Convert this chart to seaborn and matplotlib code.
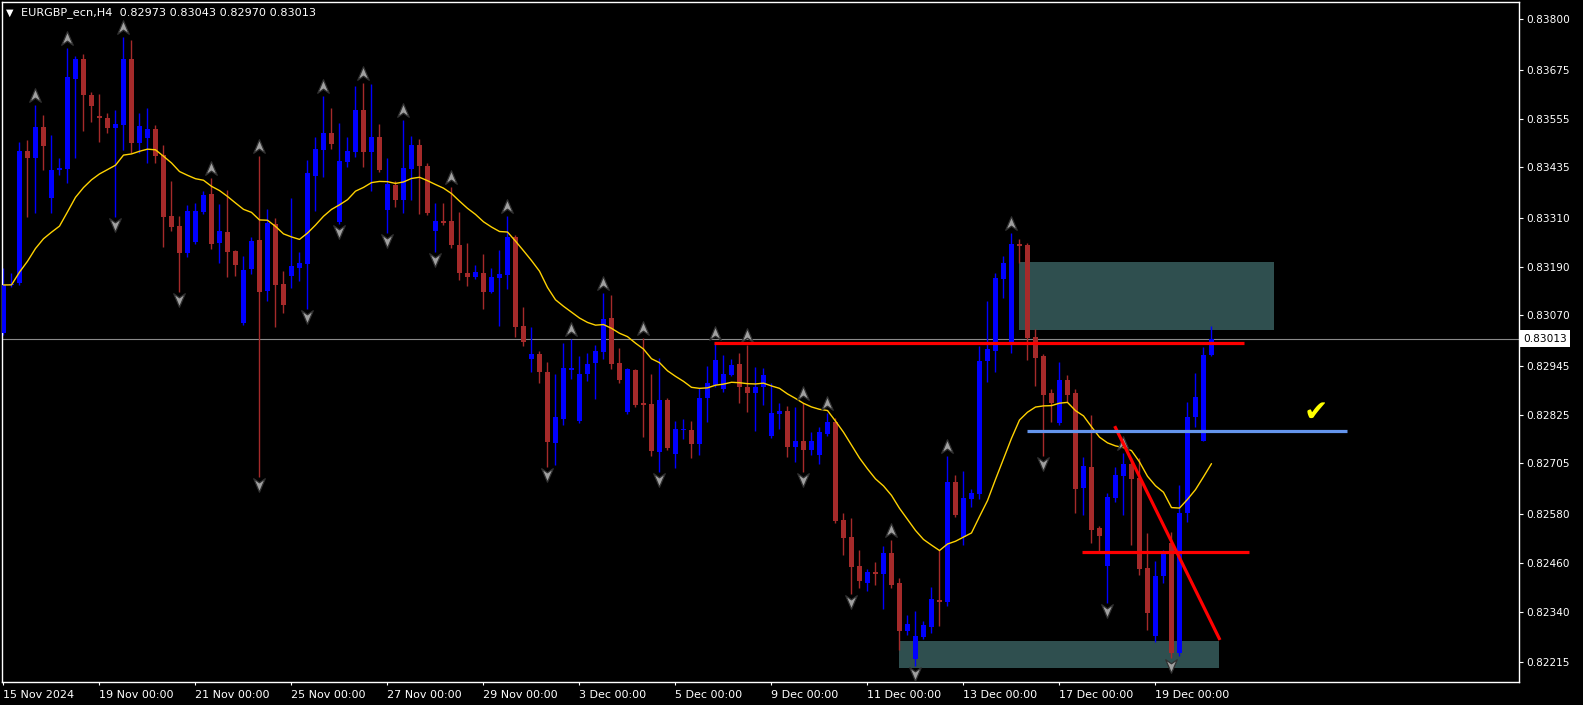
import numpy as np
import pandas as pd
import matplotlib
matplotlib.use("Agg")
import matplotlib.pyplot as plt
from matplotlib.path import Path
from matplotlib.patches import Rectangle
import seaborn as sns

# EURGBP H4 candles from 15 Nov 2024 00:00, one value per bar
opens = [
    0.83027, 0.83145, 0.83150, 0.83475, 0.83458, 0.83534, 0.83359, 0.83428, 0.83431, 0.83653,
    0.83702, 0.83613, 0.83561, 0.83556, 0.83532, 0.83539, 0.83702, 0.83495, 0.83507, 0.83529,
    0.83465, 0.83315, 0.83290, 0.83224, 0.83251, 0.83325, 0.83369, 0.83248, 0.83276, 0.83229,
    0.83051, 0.83184, 0.83256, 0.83130, 0.83295, 0.83147, 0.83167, 0.83187, 0.83197, 0.83414,
    0.83478, 0.83520, 0.83300, 0.83448, 0.83473, 0.83576, 0.83473, 0.83510, 0.83330, 0.83391,
    0.83354, 0.83431, 0.83490, 0.83438, 0.83278, 0.83303, 0.83303, 0.83244, 0.83174, 0.83165,
    0.83174, 0.83128, 0.83162, 0.83170, 0.83263, 0.83044, 0.82962, 0.82975, 0.82930, 0.82756,
    0.82815, 0.82935, 0.82810, 0.82926, 0.82953, 0.82980, 0.83064, 0.82953, 0.82832, 0.82935,
    0.82854, 0.82852, 0.82733, 0.82862, 0.82728, 0.82788, 0.82788, 0.82753, 0.82866, 0.82898,
    0.82889, 0.82923, 0.82950, 0.82894, 0.82879, 0.82894, 0.82773, 0.82827, 0.82834, 0.82746,
    0.82760, 0.82738, 0.82726, 0.82778, 0.82807, 0.82566, 0.82524, 0.82452, 0.82410, 0.82437,
    0.82433, 0.82484, 0.82410, 0.82292, 0.82223, 0.82277, 0.82302, 0.82369, 0.82364, 0.82659,
    0.82524, 0.82618, 0.82630, 0.82958, 0.82982, 0.83160, 0.83004, 0.83246, 0.83244, 0.83017,
    0.82970, 0.82879, 0.82805, 0.82911, 0.82879, 0.82645, 0.82696, 0.82546, 0.82452, 0.82620,
    0.82674, 0.82704, 0.82669, 0.82447, 0.82280, 0.82428, 0.82509, 0.82238, 0.82583, 0.82820,
    0.82760, 0.82973,
]
highs = [
    0.83187, 0.83174, 0.83497, 0.83502, 0.83588, 0.83564, 0.83515, 0.83458, 0.83729, 0.83709,
    0.83714, 0.83621, 0.83616, 0.83569, 0.83576, 0.83756, 0.83749, 0.83569, 0.83581, 0.83539,
    0.83490, 0.83400, 0.83315, 0.83342, 0.83347, 0.83377, 0.83409, 0.83345, 0.83379, 0.83231,
    0.83216, 0.83263, 0.83463, 0.83332, 0.83310, 0.83179, 0.83359, 0.83226, 0.83453, 0.83510,
    0.83611, 0.83581, 0.83544, 0.83510, 0.83635, 0.83643, 0.83640, 0.83542, 0.83458, 0.83400,
    0.83552, 0.83512, 0.83505, 0.83446, 0.83347, 0.83347, 0.83386, 0.83325, 0.83248, 0.83194,
    0.83221, 0.83187, 0.83231, 0.83315, 0.83268, 0.83091, 0.83041, 0.82982, 0.82955, 0.82926,
    0.83002, 0.83012, 0.82970, 0.82977, 0.82997, 0.83125, 0.83120, 0.82990, 0.82940, 0.82938,
    0.83014, 0.82926, 0.82965, 0.82866, 0.82810, 0.82815, 0.82810, 0.82891, 0.82945, 0.83002,
    0.82972, 0.82962, 0.82977, 0.82997, 0.82943, 0.82940, 0.82903, 0.82854, 0.82847, 0.82844,
    0.82854, 0.82783, 0.82795, 0.82830, 0.82817, 0.82583, 0.82571, 0.82492, 0.82445, 0.82462,
    0.82502, 0.82516, 0.82423, 0.82331, 0.82341, 0.82317, 0.82401, 0.82492, 0.82724, 0.82677,
    0.82687, 0.82642, 0.82995, 0.83105, 0.83174, 0.83216, 0.83273, 0.83258, 0.83248, 0.83036,
    0.82975, 0.82889, 0.82955, 0.82923, 0.82889, 0.82721, 0.82825, 0.82551, 0.82632, 0.82696,
    0.82731, 0.82719, 0.82719, 0.82534, 0.82465, 0.82492, 0.82536, 0.82652, 0.82857, 0.82928,
    0.82992, 0.83043,
]
lows = [
    0.83022, 0.83140, 0.83145, 0.83312, 0.83322, 0.83428, 0.83322, 0.83416, 0.83396, 0.83458,
    0.83524, 0.83547, 0.83497, 0.83520, 0.83312, 0.83478, 0.83470, 0.83470, 0.83446, 0.83446,
    0.83239, 0.83278, 0.83128, 0.83214, 0.83246, 0.83320, 0.83234, 0.83199, 0.83165, 0.83167,
    0.83046, 0.83172, 0.82672, 0.83105, 0.83041, 0.83076, 0.83138, 0.83155, 0.83086, 0.83327,
    0.83411, 0.83480, 0.83295, 0.83436, 0.83460, 0.83436, 0.83377, 0.83423, 0.83273, 0.83337,
    0.83322, 0.83354, 0.83320, 0.83317, 0.83226, 0.83293, 0.83236, 0.83157, 0.83142, 0.83160,
    0.83086, 0.83125, 0.83044, 0.83135, 0.83017, 0.82995, 0.82930, 0.82903, 0.82696, 0.82701,
    0.82800, 0.82913, 0.82805, 0.82908, 0.82864, 0.82962, 0.82938, 0.82903, 0.82827, 0.82844,
    0.82770, 0.82724, 0.82684, 0.82738, 0.82694, 0.82765, 0.82719, 0.82726, 0.82807, 0.82894,
    0.82881, 0.82921, 0.82854, 0.82832, 0.82785, 0.82849, 0.82768, 0.82790, 0.82721, 0.82709,
    0.82684, 0.82726, 0.82704, 0.82773, 0.82558, 0.82479, 0.82383, 0.82398, 0.82391, 0.82405,
    0.82346, 0.82398, 0.82245, 0.82282, 0.82206, 0.82272, 0.82287, 0.82304, 0.82354, 0.82573,
    0.82504, 0.82598, 0.82618, 0.82906, 0.82930, 0.83113, 0.82977, 0.83199, 0.82960, 0.82896,
    0.82724, 0.82807, 0.82800, 0.82857, 0.82583, 0.82578, 0.82509, 0.82489, 0.82361, 0.82610,
    0.82578, 0.82504, 0.82430, 0.82295, 0.82265, 0.82410, 0.82226, 0.82231, 0.82561, 0.82795,
    0.82760, 0.82970,
]
closes = [
    0.83145, 0.83147, 0.83475, 0.83458, 0.83534, 0.83487, 0.83428, 0.83433, 0.83658, 0.83702,
    0.83613, 0.83586, 0.83556, 0.83532, 0.83542, 0.83702, 0.83495, 0.83537, 0.83529, 0.83463,
    0.83312, 0.83288, 0.83224, 0.83327, 0.83327, 0.83367, 0.83246, 0.83278, 0.83226, 0.83194,
    0.83182, 0.83253, 0.83128, 0.83298, 0.83145, 0.83096, 0.83192, 0.83199, 0.83421, 0.83480,
    0.83520, 0.83492, 0.83450, 0.83475, 0.83576, 0.83473, 0.83510, 0.83428, 0.83394, 0.83354,
    0.83433, 0.83490, 0.83438, 0.83322, 0.83303, 0.83298, 0.83244, 0.83174, 0.83165, 0.83177,
    0.83128, 0.83165, 0.83172, 0.83263, 0.83041, 0.83004, 0.82975, 0.82930, 0.82758, 0.82820,
    0.82940, 0.82940, 0.82926, 0.82950, 0.82982, 0.83061, 0.82950, 0.82911, 0.82938, 0.82849,
    0.82849, 0.82736, 0.82862, 0.82743, 0.82790, 0.82790, 0.82753, 0.82866, 0.82903, 0.82960,
    0.82926, 0.82948, 0.82894, 0.82879, 0.82894, 0.82923, 0.82830, 0.82834, 0.82746, 0.82760,
    0.82738, 0.82760, 0.82783, 0.82807, 0.82563, 0.82521, 0.82450, 0.82415, 0.82437, 0.82433,
    0.82484, 0.82405, 0.82292, 0.82309, 0.82280, 0.82307, 0.82371, 0.82364, 0.82659, 0.82578,
    0.82620, 0.82632, 0.82958, 0.82987, 0.83162, 0.83199, 0.83246, 0.83241, 0.83014, 0.82965,
    0.82874, 0.82854, 0.82911, 0.82874, 0.82642, 0.82699, 0.82541, 0.82526, 0.82623, 0.82677,
    0.82704, 0.82667, 0.82445, 0.82336, 0.82428, 0.82482, 0.82238, 0.82583, 0.82820, 0.82869,
    0.82972, 0.83013,
]

# bars that carry a fractal arrow
up_fractals = [4, 8, 15, 26, 32, 40, 45, 50, 56, 63, 71, 75, 80, 89, 93, 100, 103, 111, 118, 126, 140]
down_fractals = [14, 22, 32, 38, 42, 48, 54, 68, 82, 100, 106, 114, 130, 138, 146]

date_ticks = [0, 12, 24, 36, 48, 60, 72, 84, 96, 108, 120, 132, 144]
date_labels = ["15 Nov 2024", "19 Nov 00:00", "21 Nov 00:00", "25 Nov 00:00", "27 Nov 00:00",
               "29 Nov 00:00", "3 Dec 00:00", "5 Dec 00:00", "9 Dec 00:00", "11 Dec 00:00",
               "13 Dec 00:00", "17 Dec 00:00", "19 Dec 00:00"]
price_labels = ["0.83800", "0.83675", "0.83555", "0.83435", "0.83310", "0.83190", "0.83070",
                "0.82945", "0.82825", "0.82705", "0.82580", "0.82460", "0.82340", "0.82215"]

# hand drawn objects: (bar from, bar to, price from, price to)
supply_zone = (126.9, 158.8, 0.83034, 0.83202)
demand_zone = (111.9, 151.9, 0.82201, 0.82268)
red_level = (88.85, 155.1, 0.83001, 0.83001)
blue_level = (127.9, 168.0, 0.82785, 0.82785)
red_short = (134.85, 155.7, 0.82486, 0.82486)
trend_line = (138.9, 152.06, 0.82797, 0.82270)
check_mark = (164.0, 0.82830)

df = pd.DataFrame({"open": opens, "high": highs, "low": lows, "close": closes})
df["idx"] = np.arange(len(df))
df["ema"] = df["close"].ewm(span=20, adjust=False).mean()
bull = df["close"] >= df["open"]
colors = np.where(bull, "#0000FF", "#A52A2A")

sns.set_style("dark", {"axes.facecolor": "black", "figure.facecolor": "black"})
plt.rcParams["font.family"] = ["DejaVu Sans"]

W, H = 1583, 705
fig = plt.figure(figsize=(W / 100, H / 100), dpi=100, facecolor="black")
ax = fig.add_axes([2 / W, 1 - 682 / H, 1517 / W, 680 / H])
ax.set_facecolor("black")
ax.set_xlim(-0.1875, -0.1875 + 1517 / 8)
ax.set_ylim(0.821664, 0.838424)

# zones behind everything
for x0, x1, p0, p1 in [supply_zone, demand_zone]:
    ax.add_patch(Rectangle((x0, p0), x1 - x0, p1 - p0, fc="#2F4F4F", ec="none", zorder=0.5))

# bid line
ax.axhline(closes[-1], color="#8a8a8a", lw=0.8, zorder=1)

# candles
ax.vlines(df["idx"], df["low"], df["high"], colors=colors, linewidth=1.0, zorder=2)
body = np.maximum((df["close"] - df["open"]).abs(), 2.5e-5)
ax.bar(df["idx"], body, bottom=np.minimum(df["open"], df["close"]), width=0.6,
       color=colors, linewidth=0, zorder=3)

# moving average
sns.lineplot(x=df["idx"], y=df["ema"], color="#FFD200", lw=1.0, ax=ax, zorder=4, legend=False)

# fractal arrows
arrow_up = Path([(0, 1), (0.85, -1), (0, -0.4), (-0.85, -1), (0, 1)],
                [Path.MOVETO, Path.LINETO, Path.LINETO, Path.LINETO, Path.CLOSEPOLY])
arrow_dn = Path([(0, -1), (0.85, 1), (0, 0.4), (-0.85, 1), (0, -1)],
                [Path.MOVETO, Path.LINETO, Path.LINETO, Path.LINETO, Path.CLOSEPOLY])
sns.scatterplot(x=up_fractals, y=df.loc[up_fractals, "high"].values + 0.00025, marker=arrow_up,
                s=95, color="#a0a0a0", edgecolor="#303030", linewidth=0.9, ax=ax, zorder=5)
sns.scatterplot(x=down_fractals, y=df.loc[down_fractals, "low"].values - 0.0002, marker=arrow_dn,
                s=95, color="#a0a0a0", edgecolor="#303030", linewidth=0.9, ax=ax, zorder=5)

# drawn lines
for (x0, x1, p0, p1), col in [(red_level, "#FF0000"), (red_short, "#FF0000"),
                              (trend_line, "#FF0000"), (blue_level, "#6495ED")]:
    ax.plot([x0, x1], [p0, p1], color=col, lw=2.3, solid_capstyle="butt", zorder=6)

ax.text(check_mark[0], check_mark[1], "\u2714", color="#FFFF00", fontsize=21,
        ha="center", va="center", zorder=7)

# axes styling like the terminal window
for sp in ax.spines.values():
    sp.set_color("white")
    sp.set_linewidth(1.0)
    sp.set_visible(True)
ax.grid(False)
ax.yaxis.tick_right()
ax.set_yticks([float(p) for p in price_labels], labels=price_labels)
ax.set_xticks(date_ticks, labels=date_labels)
for lab in ax.get_xticklabels():
    lab.set_ha("left")
ax.tick_params(axis="x", colors="white", labelcolor="white", labelsize=8, length=2.5,
               width=0.8, direction="out", pad=3, bottom=True)
ax.tick_params(axis="y", colors="white", labelcolor="white", labelsize=7.6, length=3,
               width=0.8, direction="out", pad=2, right=True, left=False)
ax.set_xlabel("")
ax.set_ylabel("")

# last price tag
ax.annotate(f"{closes[-1]:.5f}", xy=(1, closes[-1]), xycoords=("axes fraction", "data"),
            xytext=(4, 0), textcoords="offset pixels", va="center", ha="left",
            fontsize=7.6, color="black", annotation_clip=False, zorder=10,
            bbox=dict(boxstyle="square,pad=0.3", fc="white", ec="none"))

# symbol header
fig.text(6 / W, 1 - 12.5 / H, "\u25BC", color="white", fontsize=7, va="center", ha="left")
fig.text(21 / W, 1 - 12.5 / H,
         f"EURGBP_ecn,H4  {opens[-1]:.5f} {highs[-1]:.5f} {lows[-1]:.5f} {closes[-1]:.5f}",
         color="white", fontsize=8.1, va="center", ha="left")

fig.savefig("out.png", dpi=100, facecolor="black")
